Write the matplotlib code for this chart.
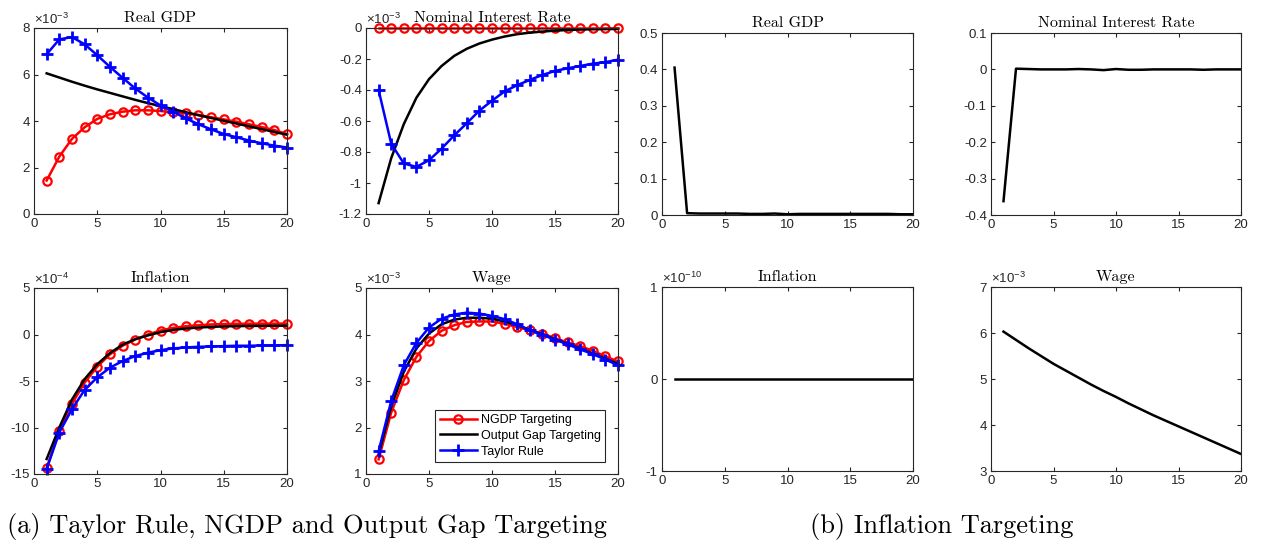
import matplotlib
matplotlib.use('Agg')
import matplotlib.pyplot as plt
from matplotlib.ticker import FuncFormatter
import numpy as np

plt.rcParams['font.family'] = ['Liberation Sans', 'DejaVu Sans']
plt.rcParams['axes.unicode_minus'] = False
plt.rcParams['mathtext.fontset'] = 'custom'
plt.rcParams['mathtext.rm'] = 'Liberation Sans'
plt.rcParams['mathtext.it'] = 'Liberation Sans:italic'

periods = list(range(1, 21))

# (a) Taylor rule / NGDP / output gap targeting
gdp_ngdp = [1.44, 2.47, 3.23, 3.73, 4.09, 4.29, 4.40, 4.46, 4.46, 4.43,
            4.37, 4.33, 4.26, 4.16, 4.07, 3.97, 3.86, 3.74, 3.61, 3.44]
gdp_gap = [6.05, 5.87, 5.69, 5.52, 5.36, 5.21, 5.06, 4.91, 4.77, 4.64,
           4.51, 4.38, 4.25, 4.13, 4.01, 3.89, 3.77, 3.65, 3.53, 3.41]
gdp_taylor = [6.87, 7.51, 7.61, 7.30, 6.83, 6.33, 5.86, 5.40, 5.01, 4.67,
              4.40, 4.11, 3.86, 3.64, 3.44, 3.30, 3.16, 3.04, 2.94, 2.86]

rate_ngdp = [0.0] * 20
rate_gap = [-1.13, -0.84, -0.62, -0.45, -0.33, -0.245, -0.18, -0.134, -0.10, -0.075,
            -0.055, -0.04, -0.03, -0.023, -0.017, -0.013, -0.010, -0.008, -0.007, -0.006]
rate_taylor = [-0.40, -0.746, -0.874, -0.896, -0.853, -0.778, -0.693, -0.614, -0.533, -0.469,
               -0.409, -0.369, -0.335, -0.303, -0.277, -0.260, -0.245, -0.230, -0.220, -0.205]

infl_ngdp = [-14.36, -10.36, -7.46, -5.18, -3.46, -2.14, -1.21, -0.54, 0.0, 0.43,
             0.71, 0.89, 1.0, 1.08, 1.12, 1.15, 1.16, 1.17, 1.17, 1.18]
infl_gap = [-13.39, -10.0, -7.0, -4.8, -3.2, -2.0, -1.1, -0.5, -0.1, 0.25,
            0.5, 0.65, 0.75, 0.82, 0.87, 0.9, 0.92, 0.93, 0.94, 0.95]
infl_taylor = [-14.46, -10.54, -8.04, -5.96, -4.61, -3.57, -2.86, -2.32, -1.96, -1.68,
               -1.5, -1.39, -1.32, -1.29, -1.25, -1.21, -1.21, -1.18, -1.18, -1.14]

wage_ngdp = [1.315, 2.32, 3.02, 3.52, 3.86, 4.08, 4.20, 4.27, 4.28, 4.28,
             4.23, 4.16, 4.09, 4.02, 3.92, 3.83, 3.75, 3.65, 3.53, 3.42]
wage_gap = [1.42, 2.45, 3.2, 3.7, 4.02, 4.22, 4.32, 4.36, 4.36, 4.34,
            4.28, 4.20, 4.10, 4.0, 3.9, 3.8, 3.7, 3.59, 3.48, 3.37]
wage_taylor = [1.49, 2.57, 3.34, 3.82, 4.15, 4.34, 4.43, 4.47, 4.45, 4.40,
               4.33, 4.22, 4.09, 3.99, 3.89, 3.79, 3.68, 3.58, 3.46, 3.34]

# (b) inflation targeting
it_gdp = [0.405, 0.005, 0.004, 0.004, 0.004, 0.004, 0.003, 0.003, 0.004, 0.002,
          0.003, 0.003, 0.003, 0.003, 0.003, 0.003, 0.003, 0.003, 0.002, 0.002]
it_rate = [-0.362, 0.002, 0.001, 0.0, 0.0, 0.0, 0.001, 0.0, -0.002, 0.001,
           -0.001, -0.001, 0.0, 0.0, 0.0, 0.0, -0.001, 0.0, 0.0, 0.0]
it_infl = [0.0] * 20
it_wage = [6.03, 5.85, 5.67, 5.50, 5.33, 5.18, 5.03, 4.88, 4.74, 4.61,
           4.47, 4.34, 4.21, 4.09, 3.97, 3.85, 3.73, 3.61, 3.49, 3.37]

legend_labels = ['NGDP Targeting', 'Output Gap Targeting', 'Taylor Rule']

axis_color = '#262626'
title_font = 'cmr10'

W, H = 1265, 545
fig = plt.figure(figsize=(W / 100, H / 100), dpi=100)


def make_axes(x0, y0, x1, y1):
    # pixel box -> figure fraction
    return fig.add_axes([x0 / W, (H - y1) / H, (x1 - x0) / W, (y1 - y0) / H])


def tick_fmt(scale):
    return FuncFormatter(lambda v, p: '%g' % (round(v / scale, 6) + 0.0))


def setup(ax, title, ylim, ystep, scale, exp_label=None):
    ax.set_xlim(0, 20)
    ax.set_xticks([0, 5, 10, 15, 20])
    lo, hi = ylim
    ax.set_ylim(lo * scale, hi * scale)
    ax.set_yticks(np.arange(lo, hi + ystep / 2, ystep) * scale)
    ax.yaxis.set_major_formatter(tick_fmt(scale))
    ax.tick_params(direction='in', top=True, right=True, length=3, width=0.8,
                   labelsize=9.5, colors=axis_color, pad=3)
    for s in ax.spines.values():
        s.set_color(axis_color)
        s.set_linewidth(0.8)
    ax.set_title(title, family=title_font, fontsize=11.5, pad=4)
    if exp_label:
        ax.text(0.0, 1.005, r'$\times10^{%s}$' % exp_label, transform=ax.transAxes,
                fontsize=9.5, color=axis_color, va='bottom', ha='left')


def three_lines(ax, a, b, c, scale):
    x = periods
    ax.plot(x, np.array(a) * scale, color='red', lw=1.8, marker='o', ms=6,
            mfc='none', mew=1.6, clip_on=False, label=legend_labels[0])
    ax.plot(x, np.array(b) * scale, color='black', lw=1.8, clip_on=False,
            label=legend_labels[1])
    ax.plot(x, np.array(c) * scale, color='blue', lw=1.8, marker='+', ms=9,
            mew=2, clip_on=False, label=legend_labels[2])


# panel (a)
ax = make_axes(34, 28, 287, 214)
three_lines(ax, gdp_ngdp, gdp_gap, gdp_taylor, 1e-3)
setup(ax, 'Real GDP', (0, 8), 2, 1e-3, '-3')

ax = make_axes(366, 28, 618, 214)
three_lines(ax, rate_ngdp, rate_gap, rate_taylor, 1e-3)
setup(ax, 'Nominal Interest Rate', (-1.2, 0), 0.2, 1e-3, '-3')

ax = make_axes(34, 288, 287, 474)
three_lines(ax, infl_ngdp, infl_gap, infl_taylor, 1e-4)
setup(ax, 'Inflation', (-15, 5), 5, 1e-4, '-4')

ax = make_axes(366, 288, 618, 474)
three_lines(ax, wage_ngdp, wage_gap, wage_taylor, 1e-3)
setup(ax, 'Wage', (1, 5), 1, 1e-3, '-3')
leg = ax.legend(loc='lower left', bbox_to_anchor=(0.275, 0.065), fontsize=9,
                fancybox=False, edgecolor=axis_color, framealpha=1,
                handlelength=3.0, borderpad=0.35, labelspacing=0.3,
                handletextpad=0.3, borderaxespad=0)
leg.get_frame().set_linewidth(0.8)

# panel (b)
ax = make_axes(662, 33, 913, 215)
ax.plot(periods, it_gdp, color='black', lw=1.8)
setup(ax, 'Real GDP', (0, 0.5), 0.1, 1.0)

ax = make_axes(991, 33, 1241, 215)
ax.plot(periods, it_rate, color='black', lw=1.8)
setup(ax, 'Nominal Interest Rate', (-0.4, 0.1), 0.1, 1.0)

ax = make_axes(662, 287, 913, 471)
ax.plot(periods, it_infl, color='black', lw=1.8)
setup(ax, 'Inflation', (-1, 1), 1, 1e-10, '-10')

ax = make_axes(991, 287, 1241, 471)
ax.plot(periods, np.array(it_wage) * 1e-3, color='black', lw=1.8)
setup(ax, 'Wage', (3, 7), 1, 1e-3, '-3')

fig.text(7 / W, 1 - 533 / H, '(a) Taylor Rule, NGDP and Output Gap Targeting',
         family=title_font, fontsize=19, va='baseline', ha='left')
fig.text(810 / W, 1 - 533 / H, '(b) Inflation Targeting',
         family=title_font, fontsize=19, va='baseline', ha='left')

fig.savefig('out.png', dpi=100)
